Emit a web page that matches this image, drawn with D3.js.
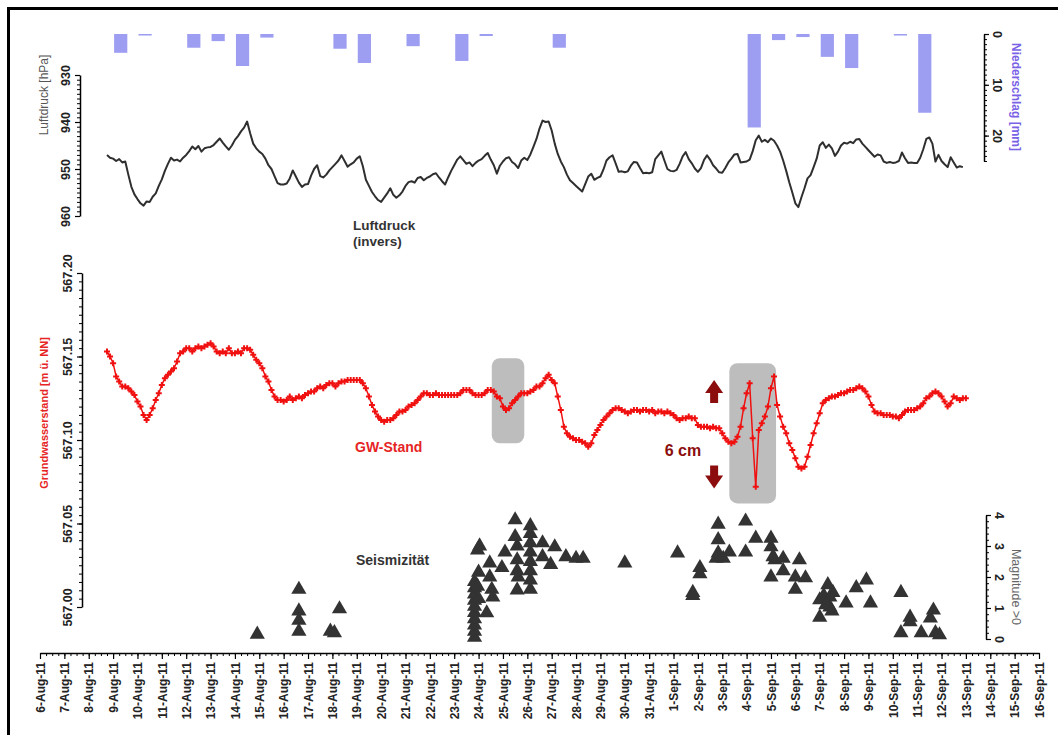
<!DOCTYPE html>
<html>
<head>
<meta charset="utf-8">
<script src="https://cdn.jsdelivr.net/npm/d3@7"></script>
<style>
  body { margin: 0; background: #fff; }
  svg { display: block; font-family: Arial, "Liberation Sans", sans-serif; }
</style>
</head>
<body>
<svg id="chart" width="1058" height="735"></svg>
<script>
// ---------------- data ----------------
// daily precipitation (mm)
const precipDates = ["2011-08-09","2011-08-10","2011-08-12","2011-08-13","2011-08-14","2011-08-15",
  "2011-08-18","2011-08-19","2011-08-21","2011-08-23","2011-08-24","2011-08-27",
  "2011-09-04","2011-09-05","2011-09-06","2011-09-07","2011-09-08","2011-09-10","2011-09-11"];
const precipMm = [3.7,0.3,2.7,1.4,6.3,0.7, 2.9,5.7,2.4,5.3,0.4,2.7, 18.4,1.2,0.6,4.5,6.7,0.3,15.5];

// air pressure (hPa), 3-hourly from 2011-08-08 18:00
const pressureStart = "2011-08-08 18";
const pressureStepHours = 3;
const pressureHpa = [
  947.0, 947.6,
  947.8, 948.3, 947.9, 948.6, 948.4, 951.2, 953.8, 955.4,
  956.4, 957.3, 957.8, 956.9, 957.0, 955.9, 955.2, 953.6,
  952.2, 950.4, 948.9, 947.6, 948.2, 948.0, 948.4, 947.6,
  947.0, 946.2, 945.2, 945.8, 945.1, 946.3, 945.6, 945.4,
  945.3, 944.9, 944.2, 943.5, 944.4, 945.2, 945.9, 945.0,
  943.8, 943.0, 942.0, 941.2, 939.9, 942.4, 944.6, 945.6,
  946.3, 946.8, 947.8, 949.2, 950.0, 951.5, 953.0, 953.3,
  953.3, 953.1, 952.0, 950.3, 951.6, 952.9, 953.8, 953.3,
  953.2, 951.4, 950.0, 949.2, 951.5, 951.8, 951.2, 950.3,
  949.6, 948.9, 948.2, 947.1, 948.3, 949.5, 949.0, 948.6,
  947.8, 947.3, 949.4, 952.3, 953.6, 954.9, 955.8, 956.6,
  957.0, 956.1, 955.2, 954.1, 955.5, 956.1, 955.6, 954.8,
  953.6, 952.8, 952.6, 952.9, 951.9, 951.7, 952.4, 951.9,
  951.6, 951.1, 950.9, 951.8, 952.6, 953.3, 951.8, 950.4,
  949.2, 948.0, 947.3, 948.1, 948.9, 948.6, 949.4, 948.7,
  948.2, 947.9, 947.2, 946.6, 948.0, 949.2, 951.0, 949.3,
  948.4, 947.7, 947.5, 948.5, 949.0, 949.8, 948.2, 947.6,
  948.1, 946.9, 945.3, 943.6, 941.4, 939.7, 940.0, 939.9,
  941.8, 944.6, 946.8, 948.4, 949.6, 951.2, 952.4, 953.0,
  953.6, 954.2, 954.8, 953.2, 951.6, 951.0, 952.3, 951.9,
  951.6, 950.1, 948.2, 947.5, 947.1, 948.8, 950.6, 950.5,
  950.7, 950.5, 949.3, 948.5, 948.6, 949.8, 950.9, 950.8,
  950.9, 950.7, 947.9, 947.1, 946.3, 948.2, 950.0, 950.4,
  950.5, 950.2, 948.9, 947.3, 946.4, 947.9, 948.8, 949.9,
  950.6, 949.8, 948.1, 947.1, 948.0, 949.2, 949.9, 950.7,
  950.8, 949.8, 948.6, 947.8, 946.9, 946.8, 948.6, 948.5,
  948.4, 948.0, 946.2, 943.9, 942.9, 944.2, 943.8, 944.3,
  943.5, 944.0, 945.0, 946.3, 948.2, 950.4, 952.8, 955.0,
  957.3, 958.1, 956.0, 954.1, 952.0, 951.3, 949.6, 947.8,
  945.0, 944.3, 945.5, 944.8, 945.6, 947.2, 946.3, 945.0,
  944.4, 944.6, 944.2, 944.5, 943.7, 943.6, 944.6, 945.3,
  946.0, 946.7, 947.4, 946.9, 947.1, 948.4, 948.7, 948.5,
  948.7, 948.6, 948.3, 946.5, 947.7, 948.7, 948.6, 948.7,
  948.7, 947.6, 945.8, 943.6, 943.3, 944.6, 948.4, 947.0,
  948.3, 949.0, 949.6, 947.5, 948.6, 949.7, 949.4, 949.6
];

// groundwater level (m a.s.l.), 3-hourly from 2011-08-08 18:00
const gwStart = "2011-08-08 18";
const gwStepHours = 3;
const gwLevel = [
  567.153, 567.150,
  567.146, 567.138, 567.135, 567.132, 567.132, 567.131, 567.129, 567.127,
  567.123, 567.120, 567.115, 567.112, 567.115, 567.119, 567.124, 567.128,
  567.133, 567.137, 567.139, 567.141, 567.143, 567.147, 567.152, 567.153,
  567.155, 567.155, 567.153, 567.155, 567.156, 567.155, 567.156, 567.157,
  567.158, 567.156, 567.153, 567.152, 567.153, 567.152, 567.155, 567.152,
  567.152, 567.153, 567.152, 567.155, 567.155, 567.154, 567.151, 567.148,
  567.146, 567.143, 567.138, 567.135, 567.130, 567.126, 567.124, 567.124,
  567.123, 567.124, 567.126, 567.124, 567.125, 567.126, 567.125, 567.127,
  567.128, 567.129, 567.129, 567.131, 567.132, 567.131, 567.133, 567.134,
  567.134, 567.132, 567.134, 567.135, 567.135, 567.136, 567.136, 567.136,
  567.136, 567.136, 567.134, 567.131, 567.126, 567.121, 567.117, 567.114,
  567.112, 567.111, 567.112, 567.112, 567.113, 567.115, 567.117, 567.117,
  567.118, 567.120, 567.121, 567.122, 567.124, 567.126, 567.128, 567.128,
  567.127, 567.127, 567.128, 567.127, 567.127, 567.127, 567.127, 567.127,
  567.127, 567.127, 567.128, 567.130, 567.130, 567.130, 567.128, 567.127,
  567.127, 567.127, 567.128, 567.130, 567.130, 567.129, 567.126, 567.125,
  567.120, 567.118, 567.119, 567.122, 567.124, 567.126, 567.128, 567.128,
  567.128, 567.129, 567.130, 567.132, 567.132, 567.134, 567.137, 567.139,
  567.136, 567.134, 567.126, 567.118, 567.108, 567.104, 567.102, 567.101,
  567.100, 567.100, 567.099, 567.098, 567.096, 567.098, 567.103, 567.106,
  567.109, 567.112, 567.114, 567.116, 567.118, 567.119, 567.119, 567.118,
  567.117, 567.116, 567.117, 567.118, 567.118, 567.117, 567.118, 567.118,
  567.117, 567.118, 567.116, 567.117, 567.117, 567.116, 567.117, 567.116,
  567.115, 567.113, 567.112, 567.113, 567.113, 567.114, 567.113, 567.113,
  567.109, 567.108, 567.108, 567.108, 567.107, 567.108, 567.107, 567.107,
  567.104, 567.101, 567.099, 567.098, 567.099, 567.102, 567.108, 567.119,
  567.128, 567.134, 567.101, 567.072, 567.106, 567.110, 567.114, 567.120,
  567.131, 567.138, 567.121, 567.114, 567.108, 567.104, 567.098, 567.094,
  567.089, 567.084, 567.083, 567.084, 567.090, 567.097, 567.104, 567.110,
  567.116, 567.122, 567.124, 567.125, 567.126, 567.126, 567.127, 567.128,
  567.128, 567.129, 567.130, 567.130, 567.131, 567.132, 567.131, 567.129,
  567.126, 567.121, 567.117, 567.116, 567.116, 567.115, 567.115, 567.115,
  567.114, 567.114, 567.113, 567.115, 567.117, 567.118, 567.118, 567.118,
  567.119, 567.120, 567.122, 567.125, 567.126, 567.128, 567.129, 567.128,
  567.126, 567.123, 567.120, 567.122, 567.126, 567.125, 567.124, 567.125,
  567.125
];

// seismic events: origin time (local hour) and magnitude
const quakeTimes = [
  "2011-08-14 22",
  "2011-08-16 15","2011-08-16 15","2011-08-16 15","2011-08-16 15",
  "2011-08-17 22","2011-08-18 02","2011-08-18 07",
  "2011-08-23 20","2011-08-23 20","2011-08-23 20","2011-08-23 20","2011-08-23 20",
  "2011-08-23 20","2011-08-23 20","2011-08-23 20","2011-08-23 20","2011-08-23 20",
  "2011-08-23 23","2011-08-24 01","2011-08-24 00","2011-08-23 23","2011-08-24 00",
  "2011-08-24 08","2011-08-24 11","2011-08-24 13","2011-08-24 14","2011-08-24 11",
  "2011-08-24 23","2011-08-25 02","2011-08-25 12","2011-08-25 12","2011-08-25 14",
  "2011-08-25 14","2011-08-25 14","2011-08-25 15","2011-08-25 14",
  "2011-08-26 03","2011-08-26 03","2011-08-26 03","2011-08-26 03","2011-08-26 03",
  "2011-08-26 03","2011-08-26 03","2011-08-26 03",
  "2011-08-26 15","2011-08-26 15","2011-08-27 03","2011-08-26 23","2011-08-27 14",
  "2011-08-28 00","2011-08-28 07","2011-08-30 00",
  "2011-09-01 04","2011-09-01 19","2011-09-01 19","2011-09-02 02","2011-09-02 02",
  "2011-09-02 20","2011-09-02 20","2011-09-02 20","2011-09-02 18","2011-09-03 01",
  "2011-09-03 07","2011-09-03 23","2011-09-03 23","2011-09-04 09",
  "2011-09-05 00","2011-09-05 00","2011-09-05 02","2011-09-05 04","2011-09-05 00",
  "2011-09-05 12","2011-09-05 12","2011-09-06 00","2011-09-06 04","2011-09-06 00",
  "2011-09-06 10","2011-09-07 00","2011-09-07 00","2011-09-07 08","2011-09-07 10",
  "2011-09-07 10","2011-09-07 13","2011-09-07 04","2011-09-07 06","2011-09-07 12",
  "2011-09-08 02","2011-09-08 12","2011-09-08 22","2011-09-09 02",
  "2011-09-10 08","2011-09-10 08","2011-09-10 17","2011-09-10 17",
  "2011-09-11 04","2011-09-11 16","2011-09-11 13","2011-09-11 18","2011-09-11 22"
];
const quakeMag = [
  0.15,
  1.6, 0.9, 0.6, 0.25,
  0.25, 0.2, 0.97,
  0.05, 0.25, 0.45, 0.65, 0.85,
  1.05, 1.25, 1.45, 1.65, 1.85,
  2.87, 3.0, 2.15, 1.7, 1.3,
  0.84, 2.0, 1.6, 1.35, 2.45,
  2.3, 2.8, 3.84, 3.3, 3.0,
  2.55, 2.2, 2.0, 1.58,
  3.65, 3.4, 3.1, 2.8, 2.5,
  2.2, 1.9, 1.6,
  3.1, 2.65, 2.97, 2.4, 2.65,
  2.6, 2.6, 2.45,
  2.77, 1.5, 1.4, 2.3, 2.1,
  3.7, 3.2, 2.77, 2.6, 2.6,
  2.8, 3.8, 2.8, 3.25,
  3.25, 2.97, 2.65, 2.55, 2.0,
  2.6, 2.2, 2.0, 2.55, 1.6,
  1.97, 1.26, 0.7, 1.75, 1.35,
  1.03, 1.5, 1.4, 1.1, 0.9,
  1.16, 1.65, 1.9, 1.16,
  1.5, 0.2, 0.7, 0.55,
  0.2, 0.93, 0.67, 0.2, 0.13
];

// shaded periods of groundwater response
const highlightFrom = ["2011-08-24 13", "2011-09-03 07"];
const highlightTo   = ["2011-08-25 21", "2011-09-05 05"];
const highlightTop    = [567.149, 567.146];
const highlightBottom = [567.098, 567.062];

// 6 cm range marker
const rangeAt = "2011-09-02 16";
const rangeHigh = 567.136;
const rangeLow = 567.071;

// axis tick values
const pressureTicks = [930, 940, 950, 960];
const precipTicks = [0, 10, 20];
const gwTicks = [567.00, 567.05, 567.10, 567.15, 567.20];
const magTicks = [0, 1, 2, 3, 4];

// ---------------- scales ----------------
const parseH = d3.timeParse("%Y-%m-%d %H");
const parseD = d3.timeParse("%Y-%m-%d");

const x = d3.scaleTime()
  .domain([new Date(2011, 7, 6), new Date(2011, 8, 16)])
  .range([40, 1039]);
const yP = d3.scaleLinear().domain([930, 960]).range([75, 216]);
const yR = d3.scaleLinear().domain([0, 25]).range([34, 161]);
const yG = d3.scaleLinear().domain([567.00, 567.20]).range([607, 273]);
const yM = d3.scaleLinear().domain([0, 4]).range([639, 515]);

const svg = d3.select("#chart");
svg.append("rect").attr("width", 1058).attr("height", 735).attr("fill", "#fff");

// frame
svg.append("path").attr("d", "M8.5,735 V8.5 H1058")
  .attr("fill", "none").attr("stroke", "#000").attr("stroke-width", 3);

// ---------------- precipitation bars ----------------
svg.append("g").selectAll("rect")
  .data(precipDates.map((d, i) => ({ t: parseD(d), v: precipMm[i] })))
  .join("rect")
  .attr("x", d => x(d3.timeHour.offset(d.t, 1)))
  .attr("width", d => x(d3.timeHour.offset(d.t, 14)) - x(d3.timeHour.offset(d.t, 1)))
  .attr("y", yR(0))
  .attr("height", d => Math.max(1.5, yR(d.v) - yR(0)))
  .attr("fill", "#9d9df2");

// ---------------- highlight boxes ----------------
svg.append("g").selectAll("rect")
  .data(highlightFrom.map((d, i) => ({ a: parseH(d), b: parseH(highlightTo[i]), top: highlightTop[i], bot: highlightBottom[i] })))
  .join("rect")
  .attr("x", d => x(d.a))
  .attr("width", d => x(d.b) - x(d.a))
  .attr("y", d => yG(d.top))
  .attr("height", d => yG(d.bot) - yG(d.top))
  .attr("rx", 8)
  .attr("fill", "#bdbdbd");

// ---------------- pressure line ----------------
const pStart = parseH(pressureStart);
const pressure = pressureHpa.map((v, i) => ({ t: d3.timeHour.offset(pStart, i * pressureStepHours), v }));
svg.append("path")
  .datum(pressure)
  .attr("fill", "none")
  .attr("stroke", "#2f2f2f")
  .attr("stroke-width", 2)
  .attr("stroke-linejoin", "round")
  .attr("d", d3.line().x(d => x(d.t)).y(d => yP(d.v)));

// ---------------- groundwater line ----------------
const gStart = parseH(gwStart);
const gw = gwLevel.map((v, i) => ({ t: d3.timeHour.offset(gStart, i * gwStepHours), v }));
svg.append("path")
  .datum(gw)
  .attr("fill", "none")
  .attr("stroke", "#f01010")
  .attr("stroke-width", 1.5)
  .attr("d", d3.line().x(d => x(d.t)).y(d => yG(d.v)));
svg.append("g").selectAll("path")
  .data(gw)
  .join("path")
  .attr("transform", d => `translate(${x(d.t)},${yG(d.v)})`)
  .attr("d", d3.symbol(d3.symbolCross, 20))
  .attr("fill", "#f01010");

// ---------------- seismicity ----------------
svg.append("g").selectAll("path")
  .data(quakeTimes.map((d, i) => ({ t: parseH(d), m: quakeMag[i] })))
  .join("path")
  .attr("transform", d => `translate(${x(d.t)},${yM(d.m)})`)
  .attr("d", d3.symbol(d3.symbolTriangle, 100))
  .attr("fill", "#333");

// ---------------- 6 cm arrows ----------------
const ax = x(parseH(rangeAt));
const arrowCol = "#8b0d0d";
const up = yG(rangeHigh), dn = yG(rangeLow);
svg.append("path")
  .attr("d", `M${ax},${up} l-9,13 h5 v10 h8 v-10 h5 Z`)
  .attr("fill", arrowCol);
svg.append("path")
  .attr("d", `M${ax},${dn} l-9,-13 h5 v-10 h8 v10 h5 Z`)
  .attr("fill", arrowCol);
svg.append("text").attr("x", ax - 13).attr("y", (up + dn) / 2 + 22)
  .attr("text-anchor", "end").attr("font-weight", "bold").attr("font-size", 16)
  .attr("fill", arrowCol).text("6 cm");

// ---------------- axes ----------------
function styleAxis(g) {
  g.select(".domain").attr("stroke", "#000").attr("stroke-width", 1.5);
  g.selectAll(".tick line").attr("stroke", "#000").attr("stroke-width", 1.2);
  g.selectAll(".tick text").attr("fill", "#222").attr("font-weight", "bold")
    .attr("font-size", 12.5).attr("font-family", "Arial, 'Liberation Sans', sans-serif");
}
function minor(g) {
  g.select(".domain").remove();
  g.selectAll(".tick line").attr("stroke", "#000").attr("stroke-width", 1);
}

// pressure (left, top panel)
svg.append("g").attr("transform", "translate(80,0)")
  .call(d3.axisLeft(yP).tickValues(d3.range(930, 961, 1)).tickSize(3).tickFormat(""))
  .call(minor);
svg.append("g").attr("transform", "translate(80,0)")
  .call(d3.axisLeft(yP).tickValues(pressureTicks).tickSize(5).tickSizeOuter(0).tickFormat(d3.format("d")))
  .call(styleAxis)
  .call(g => g.selectAll(".tick text").attr("x", 0).attr("dy", "0.35em")
    .attr("text-anchor", "middle").attr("transform", "translate(-14,0) rotate(-90)"));

// precipitation (right, top panel)
svg.append("g").attr("transform", "translate(984,0)")
  .call(d3.axisRight(yR).tickValues(d3.range(0, 26, 1)).tickSize(3).tickFormat(""))
  .call(minor);
svg.append("g").attr("transform", "translate(984,0)")
  .call(d3.axisRight(yR).tickValues(precipTicks).tickSize(5).tickSizeOuter(0).tickFormat(d3.format("d")))
  .call(styleAxis)
  .call(g => g.selectAll(".tick text").attr("x", 0).attr("dy", "0.35em")
    .attr("text-anchor", "middle").attr("transform", "translate(13,0) rotate(90)"));

// groundwater (left, middle panel)
svg.append("g").attr("transform", "translate(82,0)")
  .call(d3.axisLeft(yG).tickValues(d3.range(0, 41).map(i => 567 + i * 0.005)).tickSize(3).tickFormat(""))
  .call(minor);
svg.append("g").attr("transform", "translate(82,0)")
  .call(d3.axisLeft(yG).tickValues(gwTicks).tickSize(5).tickSizeOuter(0).tickFormat(d3.format(".2f")))
  .call(styleAxis)
  .call(g => g.selectAll(".tick text").attr("x", 0).attr("dy", "0.35em")
    .attr("text-anchor", "middle").attr("transform", "translate(-14,0) rotate(-90)"));

// magnitude (right, bottom panel)
svg.append("g").attr("transform", "translate(986,0)")
  .call(d3.axisRight(yM).tickValues(d3.range(0, 21).map(i => i * 0.2)).tickSize(3).tickFormat(""))
  .call(minor);
svg.append("g").attr("transform", "translate(986,0)")
  .call(d3.axisRight(yM).tickValues(magTicks).tickSize(5).tickSizeOuter(0).tickFormat(d3.format("d")))
  .call(styleAxis)
  .call(g => g.selectAll(".tick text").attr("x", 0).attr("dy", "0.35em")
    .attr("text-anchor", "middle").attr("transform", "translate(13,0) rotate(90)"));

// time axis
const xAxisY = 653;
svg.append("g").attr("transform", `translate(0,${xAxisY})`)
  .call(d3.axisBottom(x).ticks(d3.timeHour.every(6)).tickSize(3).tickFormat(""))
  .call(minor);
svg.append("g").attr("transform", `translate(0,${xAxisY})`)
  .call(d3.axisBottom(x).ticks(d3.timeDay.every(1)).tickSize(6).tickSizeOuter(0)
    .tickFormat(d3.timeFormat("%-d-%b-%y")))
  .call(styleAxis)
  .call(g => g.selectAll(".tick text").attr("x", -9).attr("y", 0).attr("dy", "0.35em")
    .attr("text-anchor", "end").attr("font-size", 12).attr("transform", "rotate(-90)"));

// ---------------- axis titles & labels ----------------
function vtext(xp, yp, rot, str, color, weight, size) {
  svg.append("text")
    .attr("transform", `translate(${xp},${yp}) rotate(${rot})`)
    .attr("text-anchor", "middle")
    .attr("dy", "0.35em")
    .attr("fill", color).attr("font-weight", weight).attr("font-size", size)
    .text(str);
}
vtext(44, 95, -90, "Luftdruck [hPa]", "#555", "normal", 12);
vtext(44, 413, -90, "Grundwasserstand [m ü. NN]", "#e62424", "bold", 11);
vtext(1016, 97, 90, "Niederschlag [mm]", "#7a62e6", "bold", 12);
vtext(1016, 587, 90, "Magnitude >0", "#666", "normal", 12.5);

function htext(xp, yp, str, color, size) {
  svg.append("text").attr("x", xp).attr("y", yp)
    .attr("fill", color).attr("font-weight", "bold").attr("font-size", size).text(str);
}
htext(353, 230, "Luftdruck", "#333", 13.5);
htext(353, 246, "(invers)", "#333", 13.5);
htext(355, 452, "GW-Stand", "#e62424", 14);
htext(356, 565, "Seismizität", "#333", 14);
</script>
</body>
</html>
